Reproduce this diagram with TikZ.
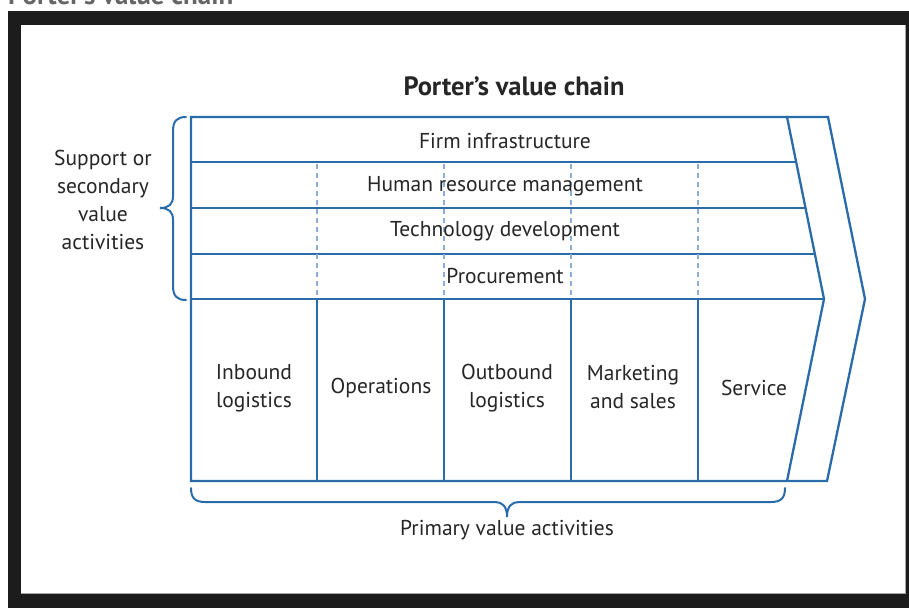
\documentclass[tikz,border=0pt]{standalone}
\usepackage{fontspec}
\setmainfont{PT Sans}
\definecolor{vc}{HTML}{2A6BAA}
\definecolor{vcl}{HTML}{8AAED6}
\definecolor{frame}{HTML}{1C1C1C}
\definecolor{txt}{HTML}{262626}
\begin{document}
\begin{tikzpicture}[x=1pt,y=-1pt,
  gridline/.style={draw=vc,line width=2.3pt},
  dashline/.style={draw=vcl,line width=1.5pt,dash pattern=on 5pt off 4pt},
  bracepath/.style={draw=vc,line width=2pt,line cap=round},
  lbl/.style={text=txt,inner sep=0pt,align=center,font=\fontsize{21.5}{28}\selectfont},
  ttl/.style={text=txt,inner sep=0pt,font=\bfseries\fontsize{26.5}{30}\selectfont}]
\useasboundingbox (0,0) rectangle (909,608);
\fill[white] (0,0) rectangle (909,608);
\begin{scope}
\clip (0,0) rectangle (909,11);
\node[anchor=base west,inner sep=0pt,text=black!60,font=\bfseries\fontsize{27}{28}\selectfont] (hdr) at (8,4) {Porter's value chain};
\end{scope}
\fill[frame] (8,11) rectangle (909,608);
\fill[white] (21,25) rectangle (905,593);
\draw[black!35,line width=1pt] (905,25) -- (905,593) -- (21,593);
% outer chevron
\draw[gridline,line join=miter] (191,117) -- (828,117) -- (865,299) -- (827,481) -- (191,481) -- cycle;
% inner chevron
\draw[gridline,line join=miter] (787,117) -- (824,299) -- (787,481);
% support rows
\draw[gridline] (191,162) -- (796,162);
\draw[gridline] (191,208) -- (805.5,208);
\draw[gridline] (191,254) -- (815,254);
\draw[gridline] (191,299) -- (824,299);
% primary columns
\foreach \xx in {317,444,571,698}{
  \draw[gridline] (\xx,299) -- (\xx,481);
  \draw[dashline] (\xx,164) -- (\xx,297);
}
% braces
\draw[bracepath] (186,117) .. controls (177,117) and (173,121) .. (173,131) -- (173,196) .. controls (173,204) and (169,208) .. (160,208) .. controls (169,208) and (173,212) .. (173,220) -- (173,286) .. controls (173,296) and (177,300) .. (186,300);
\draw[bracepath] (191,488) .. controls (191,498) and (195,502) .. (205,502) -- (495,502) .. controls (502,502) and (507,506) .. (507,517) .. controls (507,506) and (512,502) .. (519,502) -- (771,502) .. controls (781,502) and (785,498) .. (785,488);
% labels
\node[ttl] (title) at (514,86) {Porter’s value chain};
\node[lbl] (firm) at (505,141) {Firm infrastructure};
\node[lbl] (hrm) at (505,186) {Human resource management};
\node[lbl] (tech) at (505,231) {Technology development};
\node[lbl] (proc) at (505,276) {Procurement};
\node[lbl] (inb) at (254,388) {Inbound\\logistics};
\node[lbl] (ops) at (381,388) {Operations};
\node[lbl] (outb) at (507,388) {Outbound\\logistics};
\node[lbl,anchor=north] (mkt) at (633,365) {Marketing\\and sales};
\node[lbl] (serv) at (754,388) {Service};
\node[lbl] (supp) at (103,200) {Support or\\secondary\\value\\activities};
\node[lbl] (prim) at (507,530) {Primary value activities};
\end{tikzpicture}
\end{document}
